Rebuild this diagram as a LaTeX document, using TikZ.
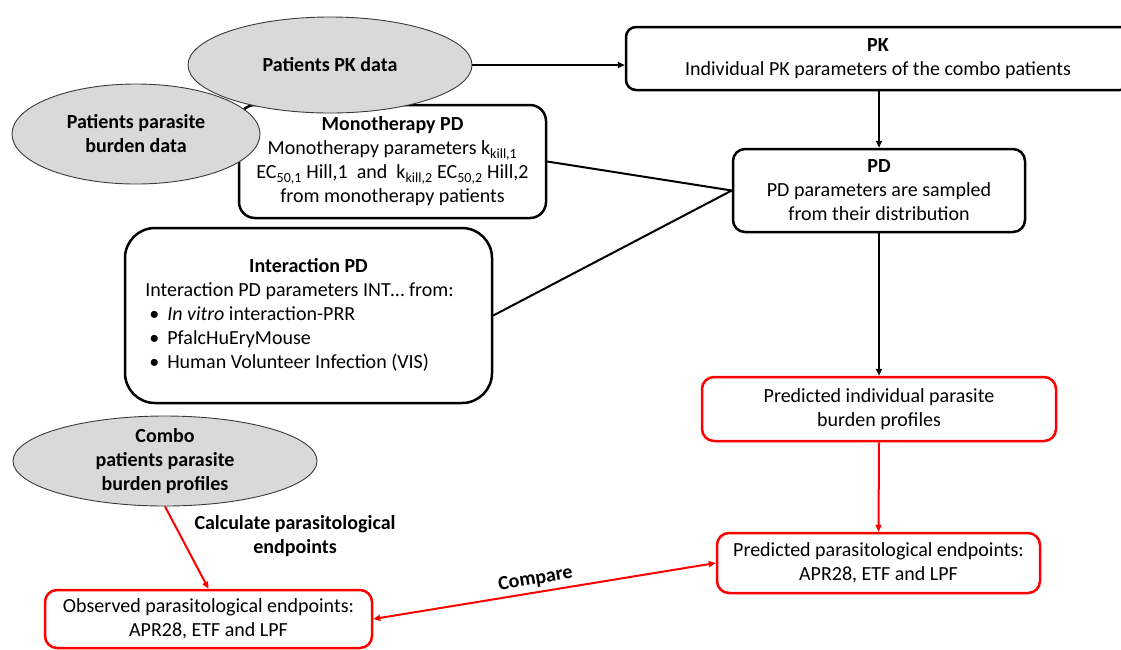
\documentclass[tikz,border=0pt]{standalone}
\usepackage{fontspec}
\setmainfont{Carlito}
\usetikzlibrary{shapes.geometric,arrows.meta}
\definecolor{efill}{HTML}{D9D9D9}
\definecolor{eline}{HTML}{3A3A3A}
\definecolor{redc}{HTML}{FF0000}
\begin{document}
\begin{tikzpicture}[x=1pt,y=-1pt,
  every node/.style={font=\fontsize{20pt}{24pt}\selectfont},
  blackbox/.style={draw=black, line width=2.5pt, rounded corners=#1, fill=white, inner sep=0pt, align=center},
  blackbox/.default=12pt,
  redbox/.style={draw=redc, line width=2.5pt, rounded corners=12pt, fill=white, inner sep=0pt, align=center},
  ell/.style={ellipse, draw=eline, line width=0.9pt, fill=efill, inner sep=0pt, align=center},
  conn/.style={line width=2pt},
  arr/.style={-{Triangle[length=7pt,width=6pt]}},
  darr/.style={{Triangle[length=7pt,width=6pt]}-{Triangle[length=7pt,width=6pt]}},
  lbl/.style={font=\fontsize{20pt}{24pt}\selectfont\bfseries, align=center}
]
\useasboundingbox (0,0) rectangle (1121,649);

% boxes
\node[blackbox=10pt, minimum width=504pt, minimum height=63pt] (pk) at (878,58.5)
  {\textbf{PK}\\Individual PK parameters of the combo patients};
\node[blackbox=12pt, minimum width=292pt, minimum height=83pt] (pd) at (879,190.5)
  {\textbf{PD}\\PD parameters are sampled\\from their distribution};
\node[blackbox=16pt, minimum width=307pt, minimum height=113pt] (mono) at (392.5,161.5)
  {\textbf{Monotherapy PD}\\Monotherapy parameters k\textsubscript{kill,1}\\EC\textsubscript{50,1} Hill,1~~and~~k\textsubscript{kill,2} EC\textsubscript{50,2} Hill,2\\from monotherapy patients};
\node[blackbox=30pt, minimum width=367pt, minimum height=175pt] (inter) at (308.5,315.5)
  {\begin{tabular}{@{}l@{\hspace{18pt}}}
   \multicolumn{1}{@{}c@{}}{\textbf{Interaction PD}}\\
   Interaction PD parameters INT… from:\\
   \hspace{4pt}•\hspace{8pt}\textit{In vitro} interaction-PRR\\
   \hspace{4pt}•\hspace{8pt}PfalcHuEryMouse\\
   \hspace{4pt}•\hspace{8pt}Human Volunteer Infection (VIS)
   \end{tabular}};
\node[redbox, minimum width=354pt, minimum height=64pt] (pi) at (879,409)
  {Predicted individual parasite\\burden profiles};
\node[redbox, minimum width=323pt, minimum height=60pt] (pe) at (878.5,563)
  {Predicted parasitological endpoints:\\APR28, ETF and LPF};
\node[redbox, minimum width=327pt, minimum height=58pt] (obs) at (208.5,619)
  {Observed parasitological endpoints:\\APR28, ETF and LPF};

% ellipses
\node[ell, minimum width=284pt, minimum height=96pt] (pkdata) at (330,65)
  {\textbf{Patients PK data}};
\node[ell, minimum width=248pt, minimum height=100pt] (burden) at (136,134)
  {\textbf{Patients parasite}\\\textbf{burden data}};
\node[ell, minimum width=304pt, minimum height=90pt, inner ysep=-8pt] (combo) at (165,461)
  {\textbf{Combo}\\\textbf{patients parasite}\\\textbf{burden profiles}};

% label
\node[lbl] (calc) at (295,536) {Calculate parasitological\\endpoints};

% connectors
\draw[conn, arr] (pkdata.east) -- (pkdata.east -| pk.west);
\draw[conn, arr] (pd.north |- pk.south) -- (pd.north);
\draw[conn] (mono.east) -- (pd.west);
\draw[conn] (inter.east) -- (pd.west);
\draw[conn, arr] (pd.south) -- (pi.north);
\draw[conn, redc, arr] (pi.south) -- (pe.north);
\draw[conn, redc, arr] (combo.south) -- (obs.north);
\draw[conn, redc, darr] (obs.east) -- node[sloped, above=3pt, pos=0.48, text=black, lbl, inner sep=1pt] (cmp) {Compare} (pe.west);
\end{tikzpicture}
\end{document}
